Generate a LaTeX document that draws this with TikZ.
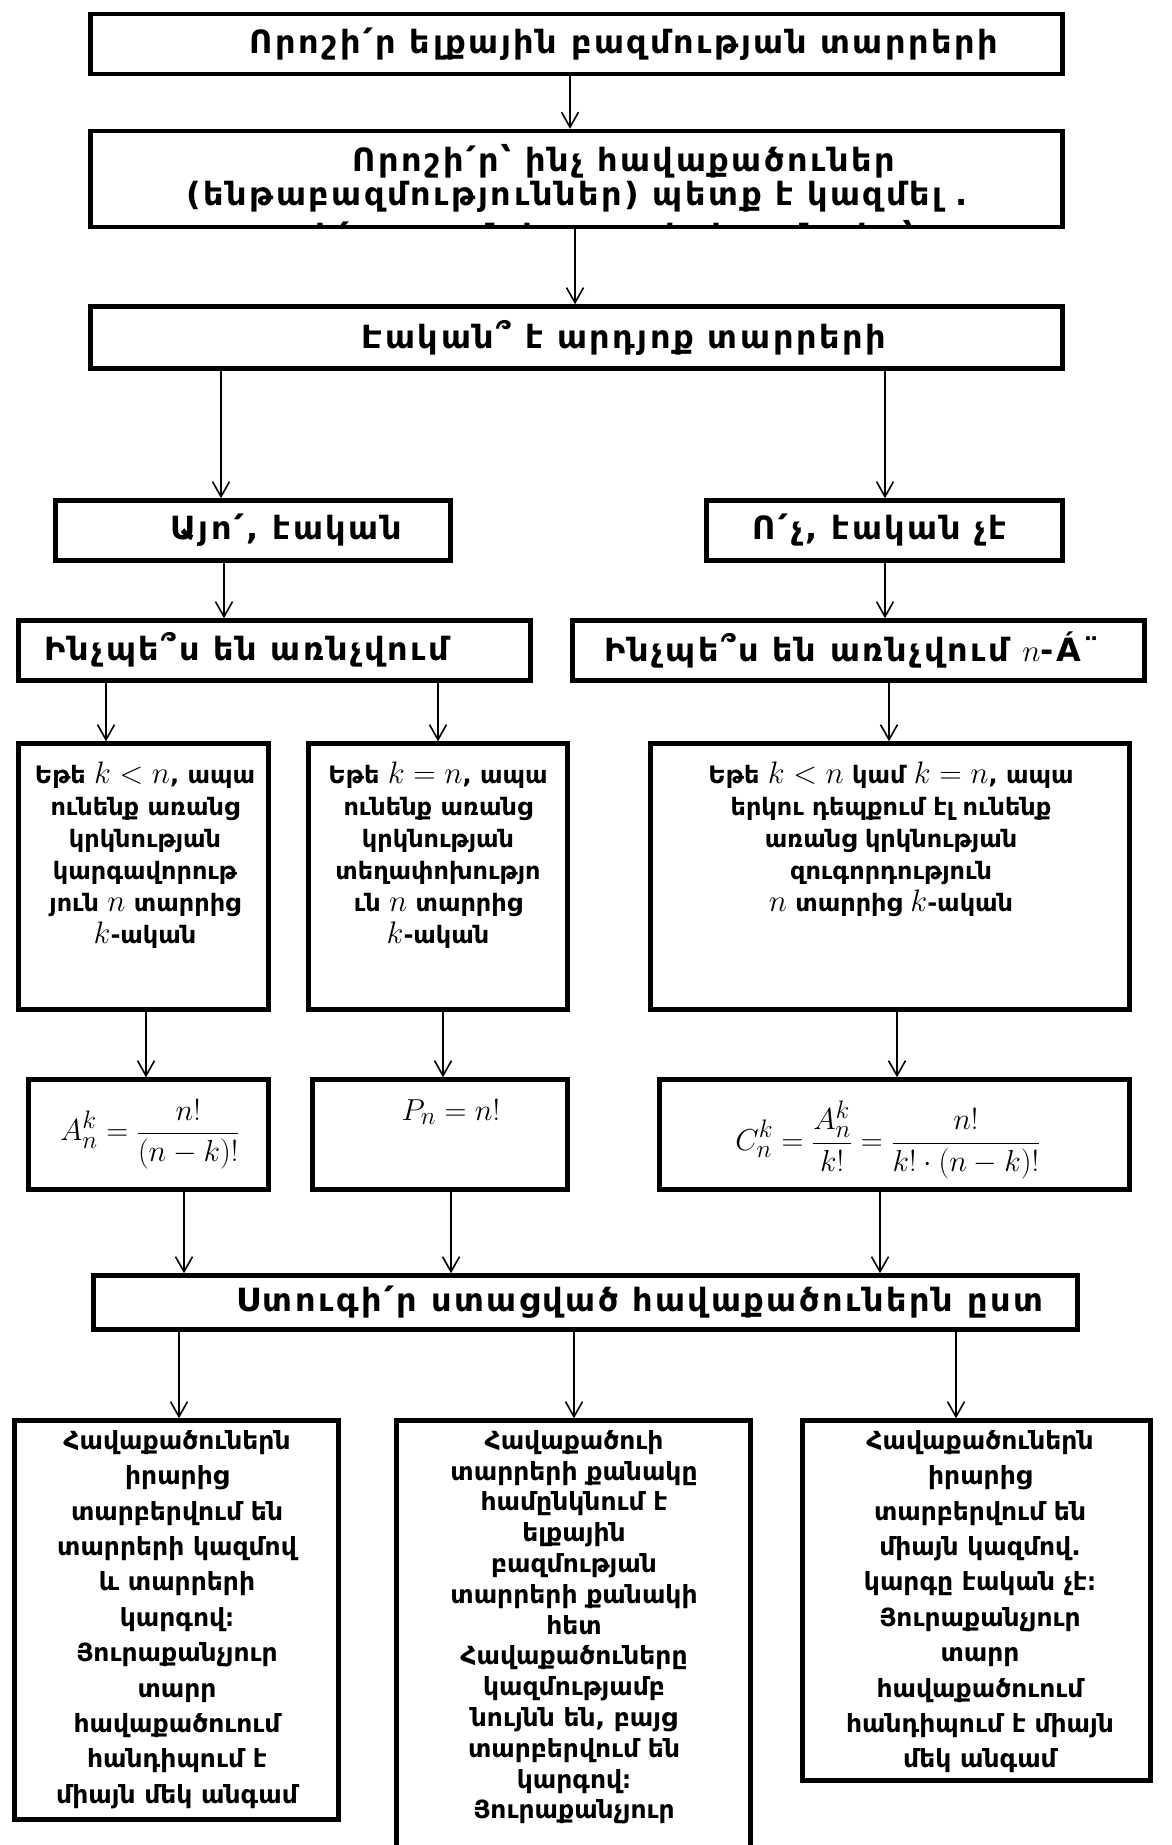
\documentclass[tikz,border=0pt]{standalone}
\usepackage[no-math]{fontspec}
\setmainfont{DejaVu Sans}
\usetikzlibrary{arrows.meta}
\newcommand{\mbig}[1]{\scalebox{1.25}{$#1$}}
\begin{document}
\begin{tikzpicture}[x=1pt,y=-1pt,
  box/.style={draw, line width=4.5pt, inner sep=0pt},
  arr/.style={line width=1.6pt, -{Straight Barb[length=15pt,width=17pt,line width=1.6pt]}},
  head/.style={font=\fontsize{32}{38}\selectfont\bfseries\addfontfeature{LetterSpace=8}, inner sep=0pt},
  body/.style={font=\fontsize{24}{32}\selectfont\bfseries, align=center, inner sep=0pt, anchor=north},
  endtxt/.style={font=\fontsize{25}{35.4}\selectfont\bfseries, align=center, inner sep=0pt, anchor=north},
  formula/.style={font=\fontsize{24.88}{30}\selectfont, inner sep=0pt},
]
\useasboundingbox[fill=white] (0,0) rectangle (1171,1845);

% ---- frames ----
\node[box, minimum width=972, minimum height=60]  (b1)    at (576.5,44)    {};
\node[box, minimum width=972, minimum height=96]  (b2)    at (576.5,179)   {};
\node[box, minimum width=972, minimum height=62]  (b3)    at (576.5,337.5) {};
\node[box, minimum width=395, minimum height=60]  (yes)   at (253,530.5)   {};
\node[box, minimum width=356, minimum height=60]  (no)    at (884.5,530.5) {};
\node[box, minimum width=512, minimum height=60]  (howL)  at (274.5,650.5) {};
\node[box, minimum width=572, minimum height=60]  (howR)  at (858.5,650.5) {};
\node[box, minimum width=250, minimum height=266] (bodyL) at (143.5,876.5) {};
\node[box, minimum width=259, minimum height=266] (bodyM) at (438,876.5)   {};
\node[box, minimum width=479, minimum height=266] (bodyR) at (890,876.5)   {};
\node[box, minimum width=240, minimum height=110] (fA)    at (148.5,1134.5){};
\node[box, minimum width=255, minimum height=110] (fP)    at (440,1134.5)  {};
\node[box, minimum width=470, minimum height=110] (fC)    at (894.5,1134.5){};
\node[box, minimum width=984, minimum height=54]  (check) at (585.5,1302.5){};
\node[box, minimum width=324, minimum height=399] (endL)  at (176.5,1620)  {};
\node[box, minimum width=354, minimum height=477] (endM)  at (573.5,1659)  {};
\node[box, minimum width=348, minimum height=360] (endR)  at (976.5,1600.5){};

% ---- headings ----
\node[head] (t1) at (624,44) {Որոշի՛ր ելքային բազմության տարրերի};
\node[head] (t2a) at (624,161) {Որոշի՛ր՝ ինչ հավաքածուներ};
\node[head] (t2b) at (577,197) {(ենթաբազմություններ) պետք է կազմել .};
\begin{scope}
  \clip (91,131) rectangle (1062,226.5);
  \node[head, anchor=north] (t2c) at (571,220) {որոշի՛ր որքան է տարրերի քանակը՝};
\end{scope}
\node[head] (t3) at (624,338) {Էական՞ է արդյոք տարրերի};
\node[head] (ty) at (286,530) {Այո՛, էական};
\node[head] (tn) at (880,530) {Ո՛չ, էական չէ};
\node[head] (thL) at (247,650) {Ինչպե՞ս են առնչվում};
\node[head] (thR) at (852,650) {Ինչպե՞ս են առնչվում \mbig{n}-Á¨};

% ---- cases ----
\node[body] (cL) at (145,762) {Եթե \mbig{k<n}, ապա\\ունենք առանց\\կրկնության\\կարգավորութ\\յուն \mbig{n} տարրից\\\mbig{k}-ական};
\node[body] (cM) at (438,762) {Եթե \mbig{k=n}, ապա\\ունենք առանց\\կրկնության\\տեղափոխությո\\ւն \mbig{n} տարրից\\\mbig{k}-ական};
\node[body] (cR) at (891,762) {Եթե \mbig{k<n} կամ \mbig{k=n}, ապա\\երկու դեպքում էլ ունենք\\առանց կրկնության\\զուգորդություն\\\mbig{n} տարրից \mbig{k}-ական};

% ---- formulas ----
\node[formula] (mA) at (150,1134) {\scalebox{1.22}{$\displaystyle A_n^k=\frac{n!}{\Bigl(n-k\Bigr)!}$}};
\node[formula] (mP) at (451,1112) {\scalebox{1.22}{$\displaystyle P_n=n!$}};
\node[formula] (mC) at (888,1140) {\scalebox{1.22}{$\displaystyle C_n^k=\frac{A_n^k}{k!}=\frac{n!}{k!\cdot\Bigl(n-k\Bigr)!}$}};

\node[head] (tc) at (640,1302) {Ստուգի՛ր ստացված հավաքածուներն ըստ};

% ---- conclusions ----
\node[endtxt] (eL) at (177,1430) {Հավաքածուներն\\իրարից\\տարբերվում են\\տարրերի կազմով\\և տարրերի\\կարգով։\\Յուրաքանչյուր\\տարր\\հավաքածուում\\հանդիպում է\\միայն մեկ անգամ};
\node[endtxt, font=\fontsize{25}{30.8}\selectfont\bfseries] (eM) at (574,1430) {Հավաքածուի\\տարրերի քանակը\\համընկնում է\\ելքային\\բազմության\\տարրերի քանակի\\հետ\\Հավաքածուները\\կազմությամբ\\նույնն են, բայց\\տարբերվում են\\կարգով։\\Յուրաքանչյուր};
\node[endtxt] (eR) at (980,1430) {Հավաքածուներն\\իրարից\\տարբերվում են\\միայն կազմով.\\կարգը էական չէ։\\Յուրաքանչյուր\\տարր\\հավաքածուում\\հանդիպում է միայն\\մեկ անգամ};

% ---- connectors ----
\foreach \name/\xx in {x570/570,x575/575,x221/221,x885/885,x224/224,x106/106,x438/438,x889/889,x146/146,x443/443,x897/897,x184/184,x451/451,x880/880,x179/179,x574/574,x956/956}
  \coordinate (\name) at (\xx,0);
\draw[arr] (b1.south -| x570) -- (b2.north -| x570);
\draw[arr] (b2.south -| x575) -- (b3.north -| x575);
\draw[arr] (b3.south -| x221) -- (yes.north -| x221);
\draw[arr] (b3.south -| x885) -- (no.north -| x885);
\draw[arr] (yes.south -| x224) -- (howL.north -| x224);
\draw[arr] (no.south -| x885) -- (howR.north -| x885);
\draw[arr] (howL.south -| x106) -- (bodyL.north -| x106);
\draw[arr] (howL.south -| x438) -- (bodyM.north -| x438);
\draw[arr] (howR.south -| x889) -- (bodyR.north -| x889);
\draw[arr] (bodyL.south -| x146) -- (fA.north -| x146);
\draw[arr] (bodyM.south -| x443) -- (fP.north -| x443);
\draw[arr] (bodyR.south -| x897) -- (fC.north -| x897);
\draw[arr] (fA.south -| x184) -- (check.north -| x184);
\draw[arr] (fP.south -| x451) -- (check.north -| x451);
\draw[arr] (fC.south -| x880) -- (check.north -| x880);
\draw[arr] (check.south -| x179) -- (endL.north -| x179);
\draw[arr] (check.south -| x574) -- (endM.north -| x574);
\draw[arr] (check.south -| x956) -- (endR.north -| x956);
\end{tikzpicture}
\end{document}
